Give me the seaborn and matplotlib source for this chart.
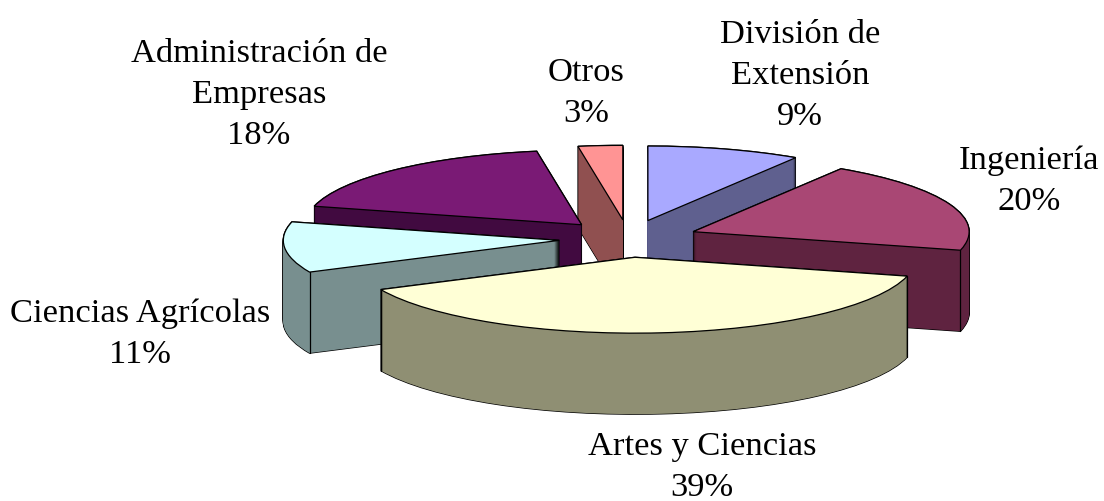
import numpy as np
import matplotlib
matplotlib.use("Agg")
import matplotlib.pyplot as plt
import seaborn as sns

# data
categories = ["División de\nExtensión", "Ingeniería", "Artes y Ciencias",
              "Ciencias Agrícolas", "Administración de\nEmpresas", "Otros"]
values = [9.0, 20.0, 39.0, 11.0, 18.4, 2.6]

# style
top_colors = ["#A9A9FF", "#A94774", "#FFFFD6", "#D4FFFF", "#7A1A75", "#FF9494"]
side_colors = ["#5F608F", "#5F2340", "#8F8F73", "#788F8F", "#410A40", "#905050"]
draw_order = [5, 0, 4, 1, 3, 2]
label_x = [800, 1029, 702, 140, 259, 586]
label_y = [76, 181, 467, 334, 95, 93]
radii = [276, 276, 281, 276, 276, 276]

W, H = 1104, 502
squash = 0.27
cx, cy = 628.5, 239.6
depth = 81
explode = [69.5] * len(values)

sns.set_theme(style="white")
plt.rcParams["font.family"] = ["Liberation Serif", "DejaVu Serif"]

fig = plt.figure(figsize=(W / 100, H / 100), dpi=100, facecolor="white")
ax = fig.add_axes([0, 0, 1, 1])


def yd(py):
    return (H - py) / squash


def one_wedge(i, py, color, edge, lw, z):
    wedges = ax.pie(values, explode=explode, radius=radii[i], center=(cx, yd(py)),
                    startangle=90, counterclock=False, labeldistance=None,
                    colors=[color] * len(values),
                    wedgeprops=dict(edgecolor=edge, linewidth=lw, zorder=z))[0]
    keep = wedges[i]
    for j, w in enumerate(wedges):
        if j != i:
            w.remove()
    return keep


z = 1
for i in draw_order:
    # black silhouette, then the side colour over it
    for d in range(0, depth + 1):
        one_wedge(i, cy + d, "black", "black", 1.0, z)
    z += 1
    for d in range(0, depth + 1):
        one_wedge(i, cy + d, side_colors[i], "none", 0, z)
    z += 1
    top = one_wedge(i, cy, top_colors[i], "black", 0.9, z + 1)
    # vertical edge at the front corners of the slice
    for ang in (top.theta1, top.theta2):
        if np.sin(np.radians(ang)) < 0:
            x = top.center[0] + radii[i] * np.cos(np.radians(ang))
            y = top.center[1] + radii[i] * np.sin(np.radians(ang))
            ax.plot([x, x], [y, y - depth / squash], color="black", lw=0.9, zorder=z)
    z += 2

for i, name in enumerate(categories):
    ax.text(label_x[i], yd(label_y[i]), f"{name}\n{values[i]:.0f}%", ha="center",
            va="center", fontsize=24.8, linespacing=1.44, color="black", zorder=z + 1)

ax.set_aspect("auto")
ax.set_xlim(0, W)
ax.set_ylim(0, H / squash)
ax.axis("off")
fig.savefig("out.png", dpi=100, facecolor="white")
